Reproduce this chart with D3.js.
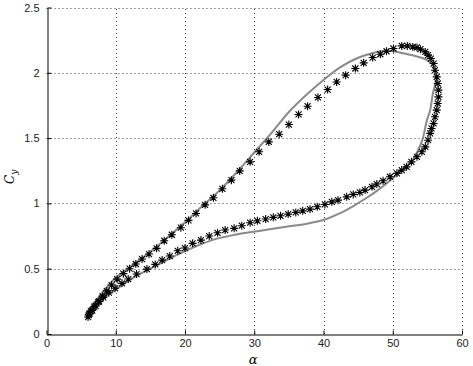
<!DOCTYPE html>
<html>
<head>
<meta charset="utf-8">
<script src="https://cdn.jsdelivr.net/npm/d3@7.9.0/dist/d3.min.js"></script>
<style>
  body { margin: 0; background: #fff; }
  svg { display: block; font-family: "Liberation Sans", Arial, sans-serif; }
</style>
</head>
<body>
<svg id="chart" width="473" height="366"></svg>
<script>
// measured loop (asterisks): [alpha, Cy]
const measured = [
  [6.0,0.13],[6.2,0.155],[6.6,0.18],[7.1,0.215],[7.6,0.25],[8.1,0.29],[8.7,0.33],[9.4,0.375],
  [10.2,0.42],[11.1,0.462],[12.0,0.5],[12.9,0.536],[13.8,0.574],[14.8,0.612],[15.9,0.656],
  [17.0,0.714],[18.1,0.76],[19.4,0.814],[20.5,0.87],[21.6,0.923],[22.9,0.989],[24.1,1.043],
  [25.4,1.112],[26.7,1.178],[27.9,1.249],[29.4,1.318],[30.7,1.395],[32.1,1.471],[33.6,1.53],
  [35.0,1.604],[36.4,1.681],[37.7,1.744],[39.2,1.811],[40.6,1.872],[41.9,1.93],[43.2,1.982],
  [44.6,2.033],[45.8,2.076],[47.1,2.117],[48.2,2.142],[49.1,2.165],[50.1,2.186],[51.3,2.206],
  [52.1,2.206],[52.9,2.198],[53.5,2.194],[54.0,2.181],[54.7,2.16],[55.1,2.135],[55.5,2.109],
  [55.9,2.071],[56.1,2.02],[56.35,1.969],[56.5,1.918],[56.6,1.867],[56.6,1.816],[56.5,1.765],
  [56.35,1.714],[56.1,1.663],[55.9,1.612],[55.6,1.574],[55.4,1.536],[55.1,1.484],[54.7,1.433],
  [54.2,1.395],[53.5,1.357],[52.7,1.318],[52.0,1.28],[51.3,1.255],[50.6,1.23],[49.6,1.204],
  [48.6,1.173],[47.7,1.148],[47.0,1.127],[46.0,1.102],[45.25,1.084],[44.3,1.069],[43.35,1.05],
  [42.1,1.025],[41.2,1.012],[40.2,0.992],[39.1,0.974],[38.05,0.956],[37.0,0.943],[36.0,0.931],
  [34.9,0.918],[33.8,0.905],[32.75,0.893],[31.65,0.88],[30.45,0.867],[29.4,0.852],[28.2,0.829],
  [27.1,0.809],[25.8,0.796],[24.7,0.775],[23.5,0.75],[22.3,0.719],[21.1,0.694],[20.0,0.658],
  [18.95,0.637],[17.8,0.597],[16.7,0.566],[15.7,0.533],[14.5,0.497],[13.0,0.459],[11.8,0.421],
  [10.9,0.388],[9.9,0.35],[9.0,0.316],[8.2,0.28],[7.5,0.245],[6.9,0.21],[6.4,0.175],[6.1,0.145]
];

// model loop (gray line)
const model = [
  [5.8,0.16],[7.5,0.28],[10,0.43],[12.5,0.53],[15,0.63],[17.5,0.74],[20,0.855],[22.5,0.98],
  [25,1.10],[27.5,1.24],[30,1.39],[32.5,1.54],[35,1.70],[37.5,1.83],[40,1.945],[42.5,2.045],
  [45,2.115],[47,2.15],[49.6,2.168],[51.5,2.15],[53.5,2.125],[54.9,2.098],[55.9,2.05],
  [56.2,1.995],[56.25,1.943],[55.8,1.842],[55.4,1.714],[54.9,1.63],[54.3,1.49],[53.5,1.39],
  [52.7,1.32],[51.0,1.24],[49.5,1.17],[47.8,1.10],[46.3,1.045],[44.3,0.98],[42.4,0.925],
  [40.2,0.877],[37.6,0.845],[34.6,0.821],[32,0.80],[29.9,0.783],[27.4,0.762],[24.6,0.73],
  [22.2,0.685],[20,0.635],[17.5,0.57],[15,0.50],[12.5,0.43],[10,0.34],[7.7,0.25],[5.8,0.16]
];

const xTicks = [0, 10, 20, 30, 40, 50, 60];
const yTicks = [0, 0.5, 1, 1.5, 2, 2.5];

const margin = { top: 7.5, right: 11, bottom: 32, left: 46.5 };
const width = 473, height = 366;

const svg = d3.select('#chart');
const x = d3.scaleLinear().domain([0, 60]).range([margin.left, width - margin.right]);
const y = d3.scaleLinear().domain([0, 2.5]).range([height - margin.bottom, margin.top]);

// grid
const grid = svg.append('g')
  .attr('stroke', '#444')
  .attr('stroke-width', 1)
  .attr('stroke-dasharray', '1,3');
grid.selectAll('.gx')
  .data(xTicks.slice(1))
  .enter().append('line')
  .attr('x1', d => Math.round(x(d)) + 0.5).attr('x2', d => Math.round(x(d)) + 0.5)
  .attr('y1', y(0)).attr('y2', y(2.5));
grid.selectAll('.gy')
  .data(yTicks.slice(1))
  .enter().append('line')
  .attr('y1', d => Math.round(y(d)) + 0.5).attr('y2', d => Math.round(y(d)) + 0.5)
  .attr('x1', x(0)).attr('x2', x(60));

// axes (ticks point inward like matlab)
const xAxis = d3.axisBottom(x).tickValues(xTicks).tickSizeInner(-4).tickSizeOuter(0).tickPadding(5);
const yAxis = d3.axisLeft(y).tickValues(yTicks).tickSizeInner(-4).tickSizeOuter(0).tickPadding(8)
  .tickFormat(d3.format('~g'));

svg.append('g')
  .attr('transform', `translate(0,${Math.round(y(0)) + 0.5})`)
  .call(xAxis)
  .call(g => g.select('.domain').attr('stroke', '#000'))
  .call(g => g.selectAll('text').attr('font-size', 11).attr('fill', '#222'));

svg.append('g')
  .attr('transform', `translate(${Math.round(x(0)) + 0.5},0)`)
  .call(yAxis)
  .call(g => g.select('.domain').attr('stroke', '#000'))
  .call(g => g.selectAll('text').attr('font-size', 11).attr('fill', '#222'));

// model curve
const line = d3.line().x(d => x(d[0])).y(d => y(d[1])).curve(d3.curveCatmullRom);
svg.append('path')
  .datum(model)
  .attr('d', line)
  .attr('fill', 'none')
  .attr('stroke', '#8a8a8a')
  .attr('stroke-width', 2);

// asterisk markers
const star = 'M-4,0H4M0,-4V4M-3,-3L3,3M-3,3L3,-3';
svg.append('g')
  .selectAll('path')
  .data(measured)
  .enter().append('path')
  .attr('transform', d => `translate(${x(d[0])},${y(d[1])})`)
  .attr('d', star)
  .attr('fill', 'none')
  .attr('stroke', '#000')
  .attr('stroke-width', 1.1);

// axis labels
svg.append('text')
  .attr('x', x(30) - 1).attr('y', 364)
  .attr('text-anchor', 'middle')
  .attr('font-size', 13)
  .attr('font-style', 'italic')
  .attr('font-family', 'DejaVu Serif, serif')
  .text('α');

const yl = svg.append('text')
  .attr('transform', `translate(14,${y(1.25) + 6}) rotate(-90)`)
  .attr('text-anchor', 'middle')
  .attr('font-size', 12)
  .attr('font-style', 'italic')
  .attr('font-family', 'DejaVu Serif, serif');
yl.append('tspan').text('C');
yl.append('tspan').attr('font-size', 9).attr('dy', 3).text('y');
</script>
</body>
</html>
